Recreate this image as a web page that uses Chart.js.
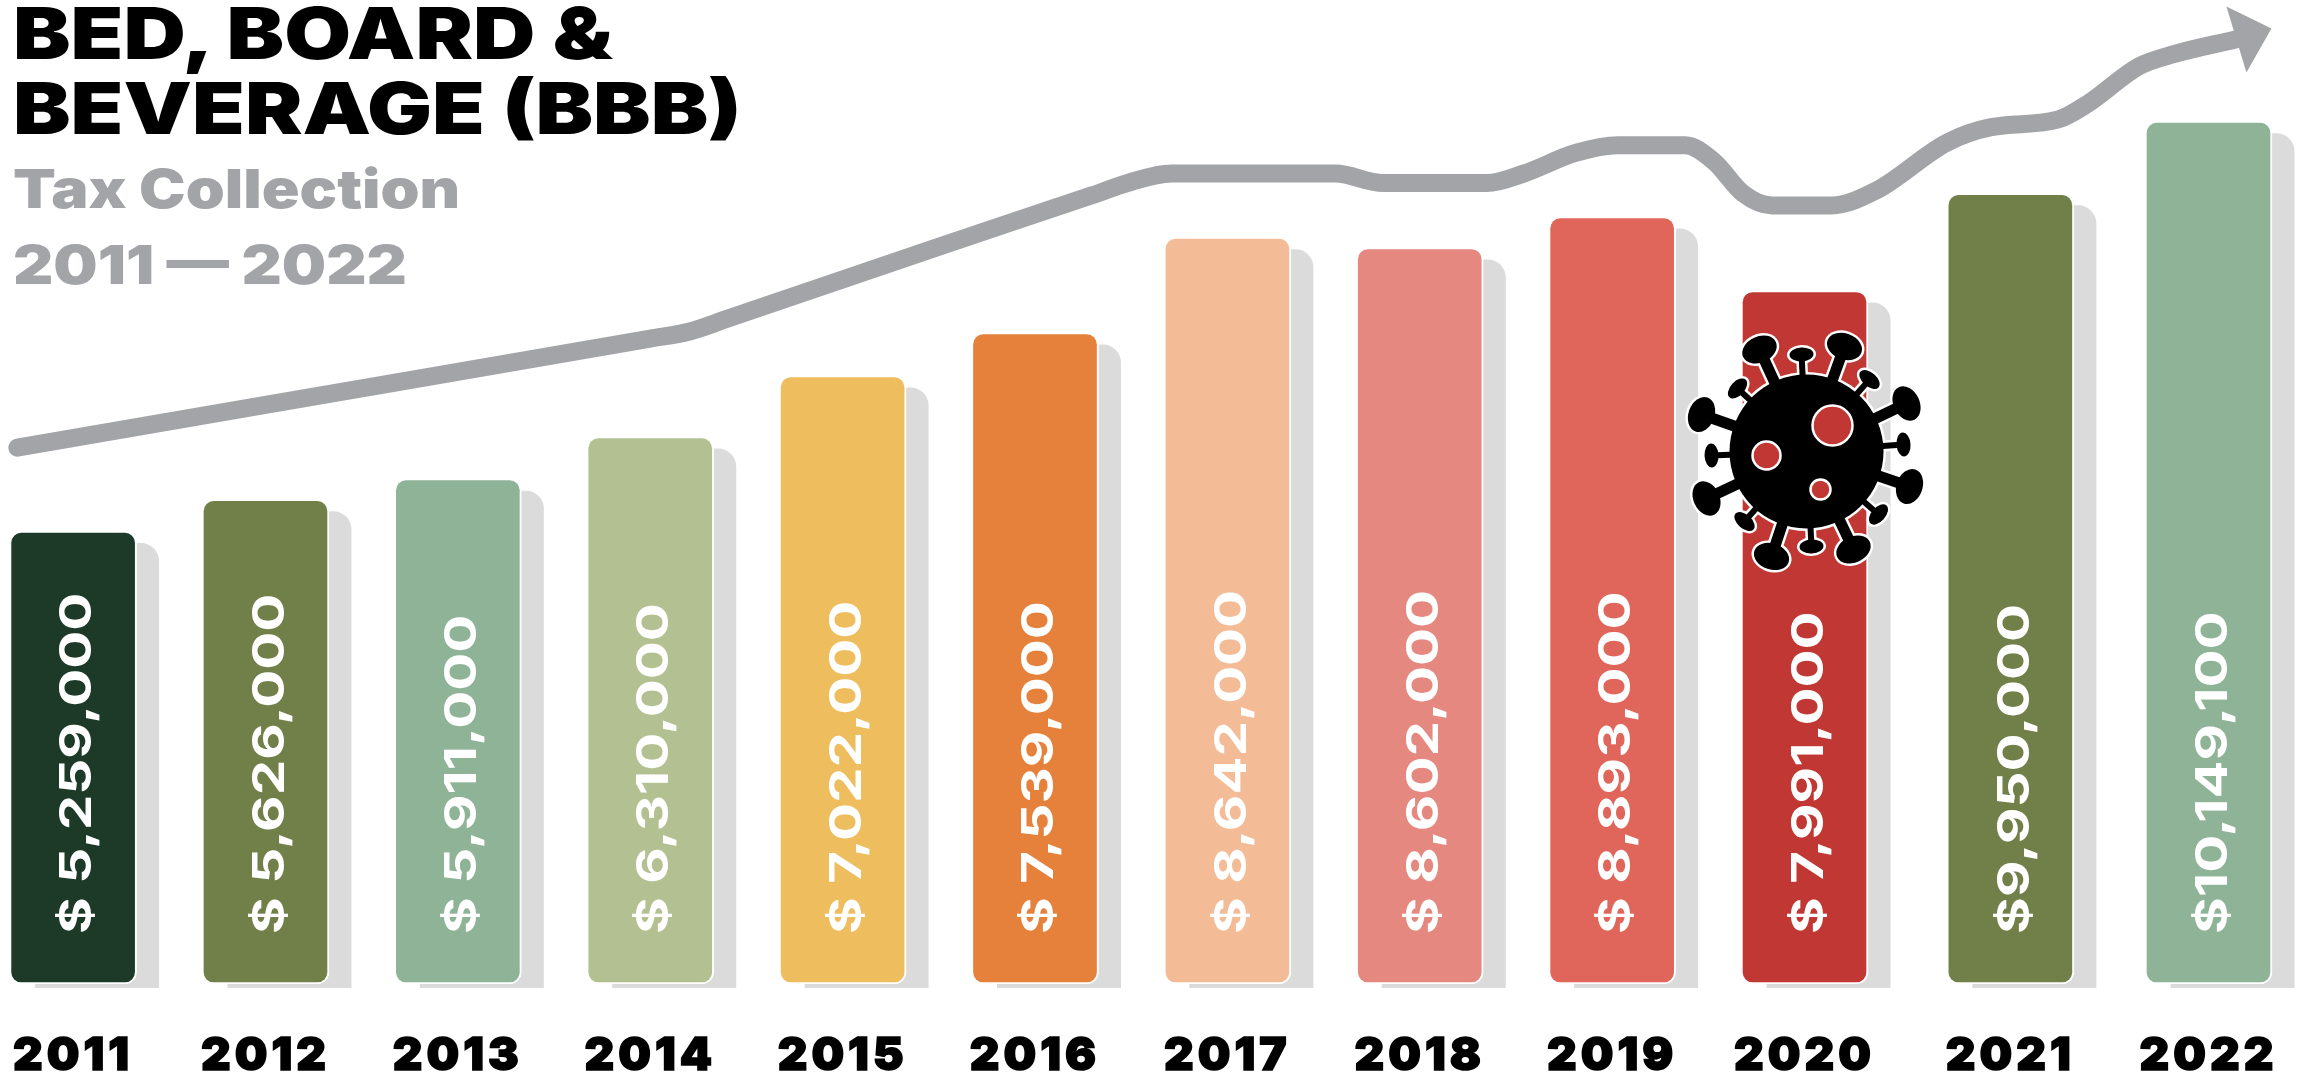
<!DOCTYPE html>
<html lang="en">
  <head>
    <meta charset="utf-8" />
    <title>Bed, Board &amp; Beverage (BBB) Tax Collection 2011 - 2022</title>
    <style>
      * {
        margin: 0;
        padding: 0;
      }
      body {
        background: #fff;
        overflow: hidden;
      }
      .chartBox {
        position: absolute;
        left: 0;
        top: 0;
        width: 2297px;
        height: 1073px;
      }
      .heading {
        position: absolute;
        left: 13px;
        white-space: nowrap;
        font-family: Inter, sans-serif;
        font-weight: 900;
        transform-origin: left top;
      }
      .title {
        top: -4px;
        font-size: 71px;
        line-height: 75px;
        color: #000;
        transform: scaleX(1.215);
      }
      .subtitle {
        top: 151px;
        font-size: 54px;
        line-height: 76px;
        color: #a3a4a8;
        transform: scaleX(1.156);
      }
    </style>
  </head>
  <body>
    <div class="chartBox"><canvas id="myChart" width="2297" height="1073"></canvas></div>
    <div class="heading title">BED, BOARD &amp;<br />BEVERAGE (BBB)</div>
    <div class="heading subtitle">Tax Collection<br />2011 — 2022</div>

    <script src="https://cdn.jsdelivr.net/npm/chart.js@4.4.0/dist/chart.umd.min.js"></script>

    <script>
      // data block
      const years = [2011, 2012, 2013, 2014, 2015, 2016, 2017, 2018, 2019, 2020, 2021, 2022];
      // the last two bars sit a little further apart in the picture
      const yearSlots = [2011, 2012, 2013, 2014, 2015, 2016, 2017, 2018, 2019, 2020, 2021.07, 2022.1];
      const valueLabels = [
        "$ 5,259,000", "$ 5,626,000", "$ 5,911,000", "$ 6,310,000",
        "$ 7,022,000", "$ 7,539,000", "$ 8,642,000", "$ 8,602,000",
        "$ 8,893,000", "$ 7,991,000", "$9,950,000", "$10,149,100",
      ];
      // bar heights as drawn, in $ millions (2021 is drawn shorter than its label says)
      const barHeights = [5.27, 5.64, 5.88, 6.37, 7.08, 7.58, 8.69, 8.57, 8.93, 8.07, 9.2, 10.04];
      const barColors = [
        "#1c3a27", "#717f49", "#8fb397", "#b3c192", "#eebd5e", "#e5813a",
        "#f3bc96", "#e58880", "#e0655a", "#c13733", "#717f49", "#8fb397",
      ];
      // trend arrow
      const trendX = [
        2010.71, 2012, 2014, 2014.2, 2014.4, 2015.5, 2016.3, 2016.48, 2016.71, 2017.56, 2017.81, 2018.35, 2018.54,
        2018.81, 2019.03, 2019.38, 2019.53, 2019.68, 2019.83, 2020.14, 2020.37, 2020.74, 2020.97, 2021.32, 2021.47,
        2021.74, 2021.92, 2022.24,
      ];
      const trendY = [
        6.24, 6.74, 7.51, 7.59, 7.74, 8.58, 9.18, 9.32, 9.43, 9.43, 9.32, 9.32, 9.43,
        9.67, 9.76, 9.76, 9.57, 9.2, 9.06, 9.06, 9.23, 9.79, 9.97, 10.06, 10.24,
        10.68, 10.82, 10.99,
      ];

      const data = {
        datasets: [
          {
            type: "line",
            data: trendX.map((x, i) => ({ x: x, y: trendY[i] })),
            borderColor: "#a3a4a8",
            borderWidth: 18,
            borderCapStyle: "round",
            cubicInterpolationMode: "monotone",
            pointRadius: 0,
          },
          {
            type: "bar",
            data: yearSlots.map((x, i) => ({ x: x, y: barHeights[i] })),
            backgroundColor: barColors,
            borderColor: "#fff",
            borderWidth: 2,
            borderSkipped: false,
            borderRadius: 12,
            barThickness: 127,
          },
        ],
      };

      // grey offset block behind each bar
      const barShadows = {
        id: "barShadows",
        beforeDatasetsDraw(chart) {
          const { ctx } = chart;
          ctx.letterSpacing = "0px"; // tick labels are done by now
          ctx.save();
          ctx.fillStyle = "#dbdbdb";
          chart.getDatasetMeta(1).data.forEach((bar) => {
            ctx.beginPath();
            ctx.roundRect(bar.x - 38, bar.y + 12, 124, bar.base - bar.y - 8, [0, 18, 0, 0]);
            ctx.fill();
          });
          ctx.restore();
        },
      };

      // tick labels are wider in the picture, the axis has no option for this
      const tickSpacing = {
        id: "tickSpacing",
        beforeDraw(chart) {
          chart.ctx.letterSpacing = "4px";
        },
      };

      // rotated value text inside the bars
      const barLabels = {
        id: "barLabels",
        afterDatasetsDraw(chart) {
          const { ctx } = chart;
          ctx.save();
          ctx.font = "700 44px Inter, sans-serif";
          ctx.fillStyle = "#fff";
          ctx.textAlign = "left";
          ctx.textBaseline = "middle";
          chart.getDatasetMeta(1).data.forEach((bar, i) => {
            ctx.save();
            ctx.translate(bar.x, bar.base - 50);
            ctx.rotate(-Math.PI / 2);
            ctx.scale(1.28, 1);
            ctx.fillText(valueLabels[i], 0, 5);
            ctx.restore();
          });
          ctx.restore();
        },
      };

      // arrow head on the end of the trend line
      const arrowHead = {
        id: "arrowHead",
        afterDatasetsDraw(chart) {
          const { ctx } = chart;
          const points = chart.getDatasetMeta(0).data;
          const end = points[points.length - 1];
          ctx.save();
          ctx.fillStyle = "#a3a4a8";
          ctx.beginPath();
          ctx.moveTo(end.x - 9, end.y - 33);
          ctx.lineTo(end.x + 36, end.y - 11);
          ctx.lineTo(end.x + 11, end.y + 33);
          ctx.closePath();
          ctx.fill();
          ctx.restore();
        },
      };

      // virus icon over the 2020 bar: spike heads as [dx, dy] from its centre, in px
      const bigSpikes = [[-47, -102], [38, -105], [100, -48], [103, 35], [47, 98], [-35, 105], [-100, 47], [-105, -37]];
      const smallSpikes = [[-5, -97], [63, -72], [97, -7], [72, 63], [5, 95], [-62, 70], [-95, 4], [-69, -63]];
      const virusHoles = [[26, -26, 20], [-40, 4, 14], [14, 38, 10]];

      const drawVirus = (ctx, extra) => {
        ctx.beginPath();
        ctx.arc(0, 0, 77 + extra, 0, Math.PI * 2);
        ctx.fill();
        const spike = ([dx, dy], stem, rx, ry) => {
          const angle = Math.atan2(dy, dx);
          ctx.lineWidth = stem + extra * 2;
          ctx.beginPath();
          ctx.moveTo(0, 0);
          ctx.lineTo(dx, dy);
          ctx.stroke();
          ctx.beginPath();
          ctx.ellipse(dx, dy, ry + extra, rx + extra, angle, 0, Math.PI * 2);
          ctx.fill();
        };
        bigSpikes.forEach((s) => spike(s, 11, 18, 13));
        smallSpikes.forEach((s) => spike(s, 6, 12, 7));
      };

      const virusIcon = {
        id: "virusIcon",
        afterDatasetsDraw(chart) {
          const { ctx } = chart;
          const bar = chart.getDatasetMeta(1).data[years.indexOf(2020)];
          ctx.save();
          ctx.translate(bar.x + 2, bar.y + 161);
          ctx.fillStyle = ctx.strokeStyle = "#fff";
          drawVirus(ctx, 2.5);
          ctx.fillStyle = ctx.strokeStyle = "#000";
          drawVirus(ctx, 0);
          virusHoles.forEach(([x, y, r]) => {
            ctx.fillStyle = "#c13733";
            ctx.strokeStyle = "#fff";
            ctx.lineWidth = 2.5;
            ctx.beginPath();
            ctx.arc(x, y, r, 0, Math.PI * 2);
            ctx.fill();
            ctx.stroke();
          });
          ctx.restore();
        },
      };

      // config block
      const config = {
        data: data,
        options: {
          responsive: false,
          animation: false,
          layout: { padding: 0 },
          plugins: {
            legend: { display: false },
            tooltip: { enabled: false },
          },
          scales: {
            x: {
              type: "linear",
              offset: false,
              min: 2010.62,
              max: 2022.56,
              grid: { display: false },
              border: { display: false },
              afterFit: (scale) => {
                scale.height = 89;
                scale.paddingLeft = 0;
                scale.paddingRight = 0;
              },
              afterBuildTicks: (scale) => {
                scale.ticks = yearSlots.map((v) => ({ value: v }));
              },
              ticks: {
                autoSkip: false,
                maxRotation: 0,
                padding: 37,
                color: "#000",
                textStrokeColor: "#000",
                textStrokeWidth: 1.5,
                font: { family: "Inter, sans-serif", size: 46, weight: "900" },
                callback: (value) => String(years[yearSlots.indexOf(value)]),
              },
            },
            y: {
              display: false,
              min: 0,
              max: 11.45,
            },
          },
        },
        plugins: [tickSpacing, barShadows, barLabels, arrowHead, virusIcon],
      };

      // init render block
      const myChart = new Chart(document.getElementById("myChart"), config);
    </script>
  </body>
</html>
